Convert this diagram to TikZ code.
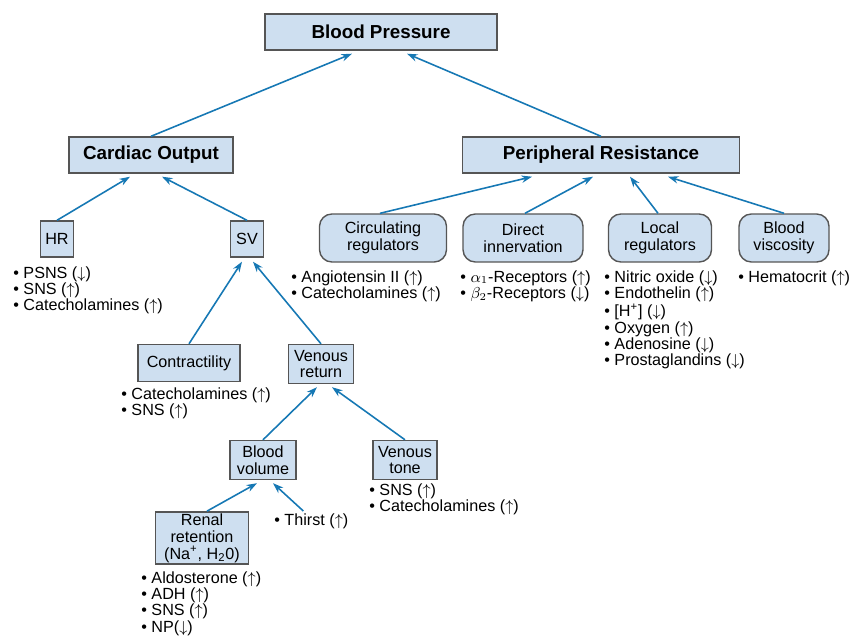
\documentclass[tikz,border=0pt]{standalone}
\usepackage{fontspec}
\setmainfont{Liberation Sans}
\usetikzlibrary{arrows.meta,calc}

\definecolor{boxfill}{RGB}{206,223,240}
\definecolor{boxline}{RGB}{85,85,85}
\definecolor{linkblue}{RGB}{22,120,180}
\newcommand{\incr}{(\smash{\(\uparrow\)})}
\newcommand{\decr}{(\smash{\(\downarrow\)})}

\begin{document}
\begin{tikzpicture}[
x=0.02cm, y=-0.02cm,
    box/.style = {rectangle, draw=boxline, fill=boxfill, line width=0.8pt,
                  inner sep=1pt, align=center,
                  font=\fontsize{9.2}{9.6}\selectfont},% plain boxes
   rbox/.style = {box, rounded corners=7pt},% rounded boxes (resistance factors)
  title/.style = {box, font=\bfseries\fontsize{10.7}{12}\selectfont},
  notes/.style = {anchor=north west, inner sep=0pt, align=left,
                  font=\fontsize{9.2}{9.3}\selectfont},% bullet lists
   conn/.style = {draw=linkblue, line width=0.9pt,
                  -{Stealth[length=6pt,width=4.2pt]}},
                        ]
\useasboundingbox (0,0) rectangle (851,635);
% main boxes
\node[title, minimum width=4.64cm, minimum height=0.72cm] (bp) at (381,32) {Blood Pressure};
\node[title, minimum width=3.28cm, minimum height=0.72cm] (co) at (151,155) {Cardiac Output};
\node[title, minimum width=5.54cm, minimum height=0.72cm] (pr) at (601,155) {Peripheral Resistance};
% cardiac output side
\node[box, minimum width=0.66cm, minimum height=0.72cm] (hr) at (57,239) {HR};
\node[box, minimum width=0.66cm, minimum height=0.72cm] (sv) at (247,239) {SV};
\node[box, minimum width=2.04cm, minimum height=0.74cm] (contr) at (189,363) {Contractility};
\node[box, minimum width=1.30cm, minimum height=0.78cm] (vr) at (321,364) {Venous\\return};
\node[box, minimum width=1.32cm, minimum height=0.78cm] (bv) at (263,460) {Blood\\volume};
\node[box, minimum width=1.28cm, minimum height=0.78cm] (vt) at (405,460) {Venous\\tone};
\node[box, minimum width=1.86cm, minimum height=1.04cm] (renal) at (202,538)
     {Renal\\retention\\(Na\textsuperscript{+}, H\textsubscript{2}0)};
% resistance side
\node[rbox, minimum width=2.54cm, minimum height=0.96cm] (circ) at (383,238) {Circulating\\regulators};
\node[rbox, minimum width=2.40cm, minimum height=0.96cm] (innerv) at (523,238) {Direct\\innervation};
\node[rbox, minimum width=2.06cm, minimum height=0.96cm] (local) at (660,238) {Local\\regulators};
\node[rbox, minimum width=1.80cm, minimum height=0.96cm] (visc) at (784,238) {Blood\\viscosity};
% bullet lists
\node[notes] (hrlist) at (13,266) {\textbullet\ PSNS \decr\\ \textbullet\ SNS \incr\\ \textbullet\ Catecholamines \incr};
\node[notes] (circlist) at (291,270) {\textbullet\ Angiotensin II \incr\\ \textbullet\ Catecholamines \incr};
\node[notes] (innervlist) at (460,270) {\textbullet\ $\alpha_1$-Receptors \incr\\ \textbullet\ $\beta_2$-Receptors \decr};
\node[notes] (locallist) at (604,270) {\textbullet\ Nitric oxide \decr\\ \textbullet\ Endothelin \incr\\
      \textbullet\ [H\textsuperscript{+}] \decr\\ \textbullet\ Oxygen \incr\\ \textbullet\ Adenosine \decr\\
      \textbullet\ Prostaglandins \decr};
\node[notes] (visclist) at (738,270) {\textbullet\ Hematocrit \incr};
\node[notes] (contrlist) at (121,387) {\textbullet\ Catecholamines \incr\\ \textbullet\ SNS \incr};
\node[notes] (vtlist) at (369,483) {\textbullet\ SNS \incr\\ \textbullet\ Catecholamines \incr};
\node[notes] (thirst) at (274,513) {\textbullet\ Thirst \incr};
\node[notes] (renallist) at (141,571) {\textbullet\ Aldosterone \incr\\ \textbullet\ ADH \incr\\
      \textbullet\ SNS \incr\\ \textbullet\ NP\decr};
% connectors
\draw[conn] (co.north) -- ($(bp.south)+(-29,3)$);
\draw[conn] (pr.north) -- ($(bp.south)+(26,3)$);
\draw[conn] (hr.north) -- ($(co.south)+(-21,3)$);
\draw[conn] (sv.north) -- ($(co.south)+(11,3)$);
\draw[conn] (contr.north) -- ($(sv.south)+(-5,4)$);
\draw[conn] (vr.north) -- ($(sv.south)+(6,4)$);
\draw[conn] (bv.north) -- ($(vr.south)+(-4,3)$);
\draw[conn] (vt.north) -- ($(vr.south)+(11,3)$);
\draw[conn] ($(renal.north)+(5,0)$) -- ($(bv.south)+(-6,3)$);
\draw[conn] ($(thirst.north)+(-8,-2)$) -- ($(bv.south)+(10,3)$);
\draw[conn] ($(circ.north)+(-3,0)$) -- ($(pr.south)+(-69,3)$);
\draw[conn] ($(innerv.north)+(2,0)$) -- ($(pr.south)+(-8,3)$);
\draw[conn] ($(local.north)+(-2,0)$) -- ($(pr.south)+(29,3)$);
\draw[conn] (visc.north) -- ($(pr.south)+(67,3)$);
\end{tikzpicture}
\end{document}
